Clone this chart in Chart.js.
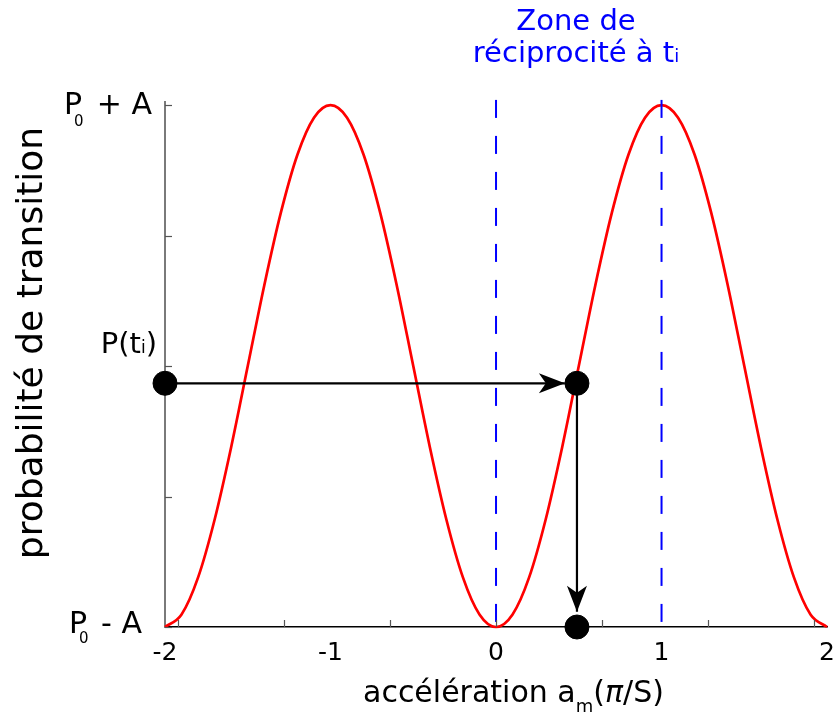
<!DOCTYPE html>
<html>
<head>
<meta charset="utf-8">
<script src="https://cdn.jsdelivr.net/npm/chart.js@4.4.1/dist/chart.umd.min.js"></script>
<style>
  html, body { margin: 0; padding: 0; background: #fff; }
  #wrap { width: 838px; height: 715px; }
</style>
</head>
<body>
<div id="wrap"><canvas id="chart"></canvas></div>
<script>
// curve: probabilité de transition vs accélération
const accel = [-2, -1.9, -1.8, -1.7, -1.6, -1.5, -1.4, -1.3, -1.2, -1.1, -1,
  -0.9, -0.8, -0.7, -0.6, -0.5, -0.4, -0.3, -0.2, -0.1, 0,
  0.1, 0.2, 0.3, 0.4, 0.5, 0.6, 0.7, 0.8, 0.9, 1,
  1.1, 1.2, 1.3, 1.4, 1.5, 1.6, 1.7, 1.8, 1.9, 2];
const proba = [0, 0.024, 0.095, 0.206, 0.345, 0.5, 0.655, 0.794, 0.905, 0.976, 1,
  0.976, 0.905, 0.794, 0.655, 0.5, 0.345, 0.206, 0.095, 0.024, 0,
  0.024, 0.095, 0.206, 0.345, 0.5, 0.655, 0.794, 0.905, 0.976, 1,
  0.976, 0.905, 0.794, 0.655, 0.5, 0.345, 0.206, 0.095, 0.024, 0];

// zone de réciprocité (vertical dashed lines)
const zoneX = [0, 1];
const zoneTop = 1.01;

// P(ti) construction
const pointsX = [-2, 0.489, 0.489];
const pointsY = [0.467, 0.467, 0];
const arrowHX = [-2, 0.416];
const arrowVY = [0.467, 0.029];

const xTickLabels = [-2, -1, 0, 1, 2];
const xTickMarks = [-1.92, -1.28, -0.64, 0, 0.64, 1.28, 1.92];
const yTickMarks = [0, 0.25, 0.5, 0.75, 1];

const FONT = "'DejaVu Sans', sans-serif";

function drawRuns(ctx, runs, x, y, align, color) {
  ctx.fillStyle = color;
  ctx.textBaseline = "alphabetic";
  ctx.textAlign = "left";
  let total = 0;
  runs.forEach(r => {
    ctx.font = (r.italic ? "italic " : "") + r.size + "px " + FONT;
    r.w = ctx.measureText(r.t).width;
    total += r.w;
  });
  let cx = align === "right" ? x - total : align === "center" ? x - total / 2 : x;
  runs.forEach(r => {
    ctx.font = (r.italic ? "italic " : "") + r.size + "px " + FONT;
    ctx.fillText(r.t, cx, y + (r.dy || 0));
    cx += r.w;
  });
}

function arrowHead(ctx, from, to) {
  const ang = Math.atan2(to.y - from.y, to.x - from.x);
  ctx.save();
  ctx.translate(to.x, to.y);
  ctx.rotate(ang);
  ctx.fillStyle = "#000";
  ctx.beginPath();
  ctx.moveTo(0, 0);
  ctx.lineTo(-26, -10);
  ctx.lineTo(-19, 0);
  ctx.lineTo(-26, 10);
  ctx.closePath();
  ctx.fill();
  ctx.restore();
}

const decorations = {
  id: "decorations",
  afterDatasetsDraw(chart) {
    const ctx = chart.ctx;
    const xs = chart.scales.x, ys = chart.scales.y;

    // inward tick marks
    ctx.save();
    ctx.strokeStyle = "#555";
    ctx.lineWidth = 1.2;
    yTickMarks.forEach(v => {
      const py = Math.round(ys.getPixelForValue(v)) + 0.5;
      ctx.beginPath();
      ctx.moveTo(xs.left, py);
      ctx.lineTo(xs.left + 7, py);
      ctx.stroke();
    });
    xTickMarks.forEach(v => {
      const px = Math.round(xs.getPixelForValue(v)) + 0.5;
      ctx.beginPath();
      ctx.moveTo(px, ys.bottom);
      ctx.lineTo(px, ys.bottom - 7);
      ctx.stroke();
    });
    ctx.restore();

    // arrow heads
    [1, 2].forEach(i => {
      const pts = chart.getDatasetMeta(i).data;
      arrowHead(ctx, pts[0], pts[pts.length - 1]);
    });
  },
  afterDraw(chart) {
    const ctx = chart.ctx;
    ctx.save();
    // y labels
    drawRuns(ctx, [{ t: "P", size: 30 }], 64, 114, "left", "#000");
    drawRuns(ctx, [{ t: "0", size: 15 }], 74, 126, "left", "#000");
    drawRuns(ctx, [{ t: "+ A", size: 30 }], 152, 114, "right", "#000");

    drawRuns(ctx, [{ t: "P", size: 30 }], 69, 633, "left", "#000");
    drawRuns(ctx, [{ t: "0", size: 15 }], 79, 643, "left", "#000");
    drawRuns(ctx, [{ t: "- A", size: 30 }], 142, 633, "right", "#000");

    drawRuns(ctx, [{ t: "P(t", size: 29 }, { t: "i", size: 17 }, { t: ")", size: 29 }], 157, 353, "right", "#000");

    // zone title
    drawRuns(ctx, [{ t: "Zone de", size: 29 }], 576, 30, "center", "#0000ff");
    drawRuns(ctx, [{ t: "réciprocité à t", size: 29 }, { t: "i", size: 18 }], 576, 62, "center", "#0000ff");

    // x title
    drawRuns(ctx, [
      { t: "accélération a", size: 30 },
      { t: "m", size: 18, dy: 10 },
      { t: "(", size: 30 },
      { t: "π", size: 30, italic: true },
      { t: "/S)", size: 30 }
    ], 363, 702, "left", "#000");

    // y title
    ctx.translate(33, 343);
    ctx.rotate(-Math.PI / 2);
    ctx.font = "36px " + FONT;
    ctx.fillStyle = "#000";
    ctx.textAlign = "center";
    ctx.textBaseline = "middle";
    ctx.fillText("probabilité de transition", 0, 0);
    ctx.restore();
  }
};

const curveData = accel.map((a, i) => ({ x: a, y: proba[i] }));
const zoneSets = zoneX.map(z => ({
  data: [{ x: z, y: zoneTop }, { x: z, y: 0 }],
  showLine: true,
  borderColor: "#0000ff",
  borderWidth: 2,
  borderDash: [18, 18],
  pointRadius: 0,
  clip: false,
  order: 2
}));

new Chart(document.getElementById("chart"), {
  type: "scatter",
  data: {
    datasets: [
      {
        data: pointsX.map((x, i) => ({ x: x, y: pointsY[i] })),
        pointRadius: 12,
        pointHoverRadius: 12,
        backgroundColor: "#000",
        borderColor: "#000",
        clip: false,
        order: 0
      },
      {
        data: arrowHX.map(x => ({ x: x, y: pointsY[0] })),
        showLine: true,
        borderColor: "#000",
        borderWidth: 2.2,
        pointRadius: 0,
        order: 1
      },
      {
        data: arrowVY.map(y => ({ x: pointsX[1], y: y })),
        showLine: true,
        borderColor: "#000",
        borderWidth: 2.2,
        pointRadius: 0,
        order: 1
      },
      ...zoneSets,
      {
        data: curveData,
        showLine: true,
        borderColor: "#ff0000",
        borderWidth: 2.7,
        pointRadius: 0,
        cubicInterpolationMode: "monotone",
        clip: false,
        order: 3
      }
    ]
  },
  options: {
    responsive: true,
    maintainAspectRatio: false,
    animation: false,
    events: [],
    layout: { autoPadding: false, padding: { top: 102, right: 8, left: 0, bottom: 0 } },
    plugins: { legend: { display: false }, tooltip: { enabled: false } },
    scales: {
      x: {
        type: "linear",
        min: -2,
        max: 2,
        afterBuildTicks: s => { s.ticks = xTickLabels.map(v => ({ value: v })); },
        afterFit: s => { s.height = 88; },
        grid: { display: false },
        border: { display: true, color: "#000", width: 1.5 },
        ticks: {
          padding: 3,
          color: "#000",
          font: { family: FONT, size: 25 },
          maxRotation: 0
        }
      },
      y: {
        type: "linear",
        min: 0,
        max: 1.006,
        afterFit: s => { s.width = 165; },
        grid: { display: false },
        border: { display: true, color: "#7a7a7a", width: 2 },
        ticks: { display: false }
      }
    }
  },
  plugins: [decorations]
});
</script>
</body>
</html>
